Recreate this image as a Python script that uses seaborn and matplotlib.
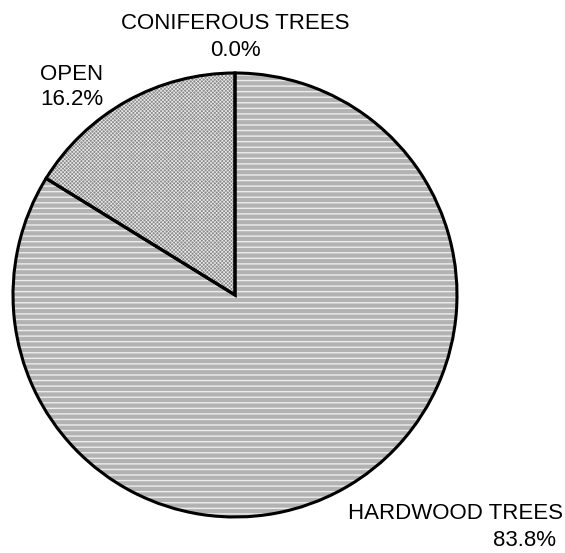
import seaborn as sns
import matplotlib.pyplot as plt
import numpy as np

# Land cover shares (percent)
categories = ['HARDWOOD TREES', 'OPEN', 'CONIFEROUS TREES']
shares = [83.8, 16.2, 0.0]
pct_labels = ['83.8%', '16.2%', '0.0%']

sns.set_style('white')
plt.rcParams['font.family'] = ['Liberation Sans', 'DejaVu Sans']

fig = plt.figure(figsize=(5.65, 5.53), dpi=100)
ax = fig.add_axes([0, 0, 1, 1])

fills = ['#b2b2b2', '#8a8a8a', '#ffffff']
hatches = ['---', 'xxxxxxxxx', '']
hatch_lw = [1.0, 0.45, 0.0]

# filled wedges with light hatch lines (only non-zero shares get a wedge)
vals = [v for v in shares if v > 0]
wedges, _ = ax.pie(vals, startangle=90, counterclock=False, radius=1,
                   colors=fills[:len(vals)], wedgeprops=dict(linewidth=0))
for w, h, lw in zip(wedges, hatches, hatch_lw):
    w.set_hatch(h)
    w.set_edgecolor('#ededed')
    w.set_linewidth(0)
    w._hatch_linewidth = lw

# black outlines on top
ax.pie(vals, startangle=90, counterclock=False, radius=1,
       colors=['none'] * len(vals),
       wedgeprops=dict(edgecolor='black', linewidth=2.2))

# labels
fs = 16
kw = dict(fontsize=fs, color='black', va='center')
ax.text(0.995, -0.985, categories[0], ha='center', **kw)
ax.text(1.306, -1.108, pct_labels[0], ha='center', **kw)
ax.text(-0.878, 0.995, categories[1], ha='left', **kw)
ax.text(-0.878, 0.880, pct_labels[1], ha='left', **kw)
ax.text(0.0, 1.222, categories[2], ha='center', **kw)
ax.text(0.0, 1.103, pct_labels[2], ha='center', **kw)

ax.set_aspect('auto')
ax.set_xlim(-1.0586, 1.4865)
ax.set_ylim(-1.1622, 1.3288)
ax.axis('off')

fig.savefig('out.png', dpi=100, facecolor='white')
